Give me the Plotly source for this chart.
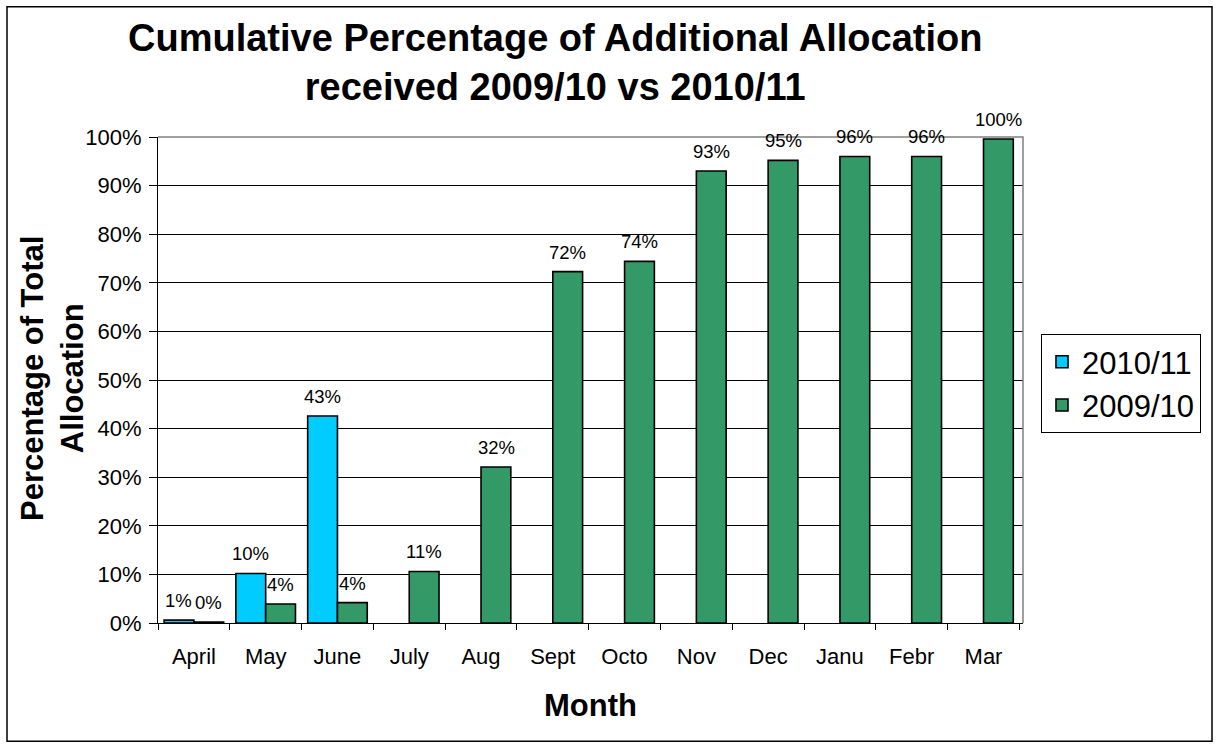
import plotly.graph_objects as go

months = ["April", "May", "June", "July", "Aug", "Sept", "Octo", "Nov", "Dec", "Janu", "Febr", "Mar"]
alloc_2010_11 = [0.6, 10.2, 42.6, None, None, None, None, None, None, None, None, None]
alloc_2009_10 = [0.2, 3.9, 4.2, 10.6, 32.1, 72.3, 74.4, 93.0, 95.2, 96.0, 96.0, 99.6]
series_names = ["2010/11", "2009/10"]
series_colors = ["#00CCFF", "#339966"]

FONT = "Liberation Sans, Arial, sans-serif"
W, H = 1218, 747
L, R, T, B = 158, 195, 136.5, 123.5
PW, PH = W - L - R, H - T - B

def px_x(p):
    return (p - L) / PW

def px_y(p):
    return (H - B - p) / PH

fig = go.Figure()
for name, vals, col in zip(series_names, [alloc_2010_11, alloc_2009_10], series_colors):
    fig.add_trace(go.Bar(
        x=months, y=vals, name=name,
        marker=dict(color=col, line=dict(color="black", width=1.6)),
    ))

annotations = []
for si, vals in enumerate([alloc_2010_11, alloc_2009_10]):
    shift = -15 if si == 0 else 15
    for m, v in zip(months, vals):
        if v is None:
            continue
        annotations.append(dict(
            x=m, y=v, xref="x", yref="y", text=f"{round(v):d}%",
            showarrow=False, xshift=shift, yshift=8, yanchor="bottom",
            font=dict(family=FONT, size=18.5, color="black"), borderpad=0,
        ))

annotations.append(dict(
    x=px_x(555), y=px_y(14), xref="paper", yref="paper",
    text="<b>Cumulative Percentage of Additional Allocation<br>received 2009/10 vs 2010/11</b>",
    showarrow=False, xanchor="center", yanchor="top",
    font=dict(family=FONT, size=38, color="black"),
))
annotations.append(dict(
    x=px_x(52), y=px_y(379), xref="paper", yref="paper",
    text="<b>Percentage of Total<br>Allocation</b>", textangle=-90,
    showarrow=False, xanchor="center", yanchor="middle",
    font=dict(family=FONT, size=31, color="black"),
))
annotations.append(dict(
    x=px_x(590), y=px_y(706), xref="paper", yref="paper",
    text="<b>Month</b>", showarrow=False, xanchor="center", yanchor="middle",
    font=dict(family=FONT, size=31, color="black"),
))

shapes = [
    dict(type="rect", xref="paper", yref="paper",
         x0=px_x(7), x1=px_x(1212), y0=px_y(742), y1=px_y(6),
         line=dict(color="black", width=1.5), layer="below"),
    dict(type="path", xref="paper", yref="paper",
         path="M 0 1 L 1 1 L 1 0", line=dict(color="#808080", width=1.5), layer="above"),
]

fig.update_layout(
    width=W, height=H,
    margin=dict(l=L, r=R, t=T, b=B),
    paper_bgcolor="white", plot_bgcolor="white",
    barmode="group", bargap=0.17, bargroupgap=0,
    font=dict(family=FONT, color="black"),
    legend=dict(
        x=px_x(1041), y=px_y(334), xanchor="left", yanchor="top",
        bordercolor="black", borderwidth=1, bgcolor="white",
        font=dict(family=FONT, size=31, color="black"),
    ),
    annotations=annotations,
    shapes=shapes,
    xaxis=dict(
        type="category", showline=True, linecolor="black", linewidth=1,
        ticks="outside", ticklen=6, tickcolor="black", tickson="boundaries",
        tickfont=dict(family=FONT, size=22, color="black"),
        showgrid=False, zeroline=False, ticklabelstandoff=14,
    ),
    yaxis=dict(
        range=[0, 100], dtick=10, ticksuffix="%",
        showline=True, linecolor="black", linewidth=1,
        ticks="outside", ticklen=8, tickcolor="black",
        tickfont=dict(family=FONT, size=22, color="black"),
        showgrid=True, gridcolor="black", gridwidth=1, zeroline=False,
        ticklabelstandoff=3,
    ),
)

fig.write_html("out.html")
